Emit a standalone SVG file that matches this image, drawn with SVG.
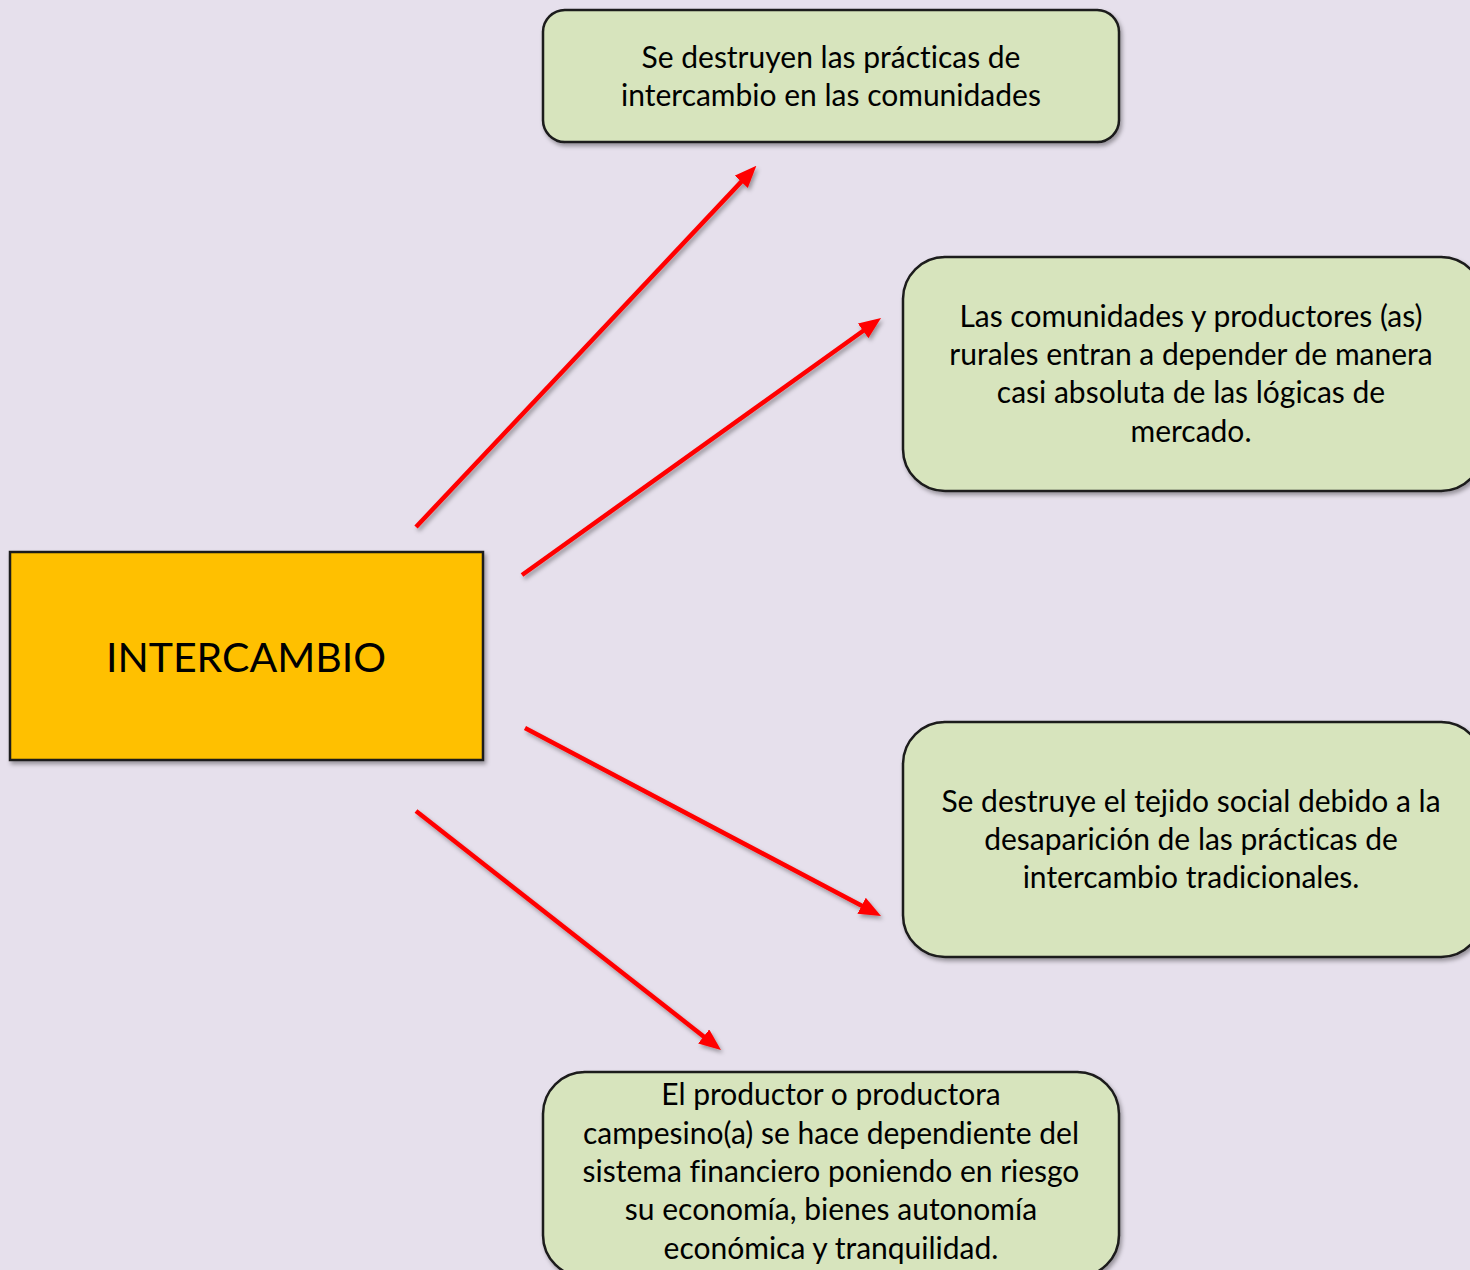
<svg xmlns="http://www.w3.org/2000/svg" width="1470" height="1270" viewBox="0 0 1470 1270">
  <defs>
    <filter id="shadow" x="-10%" y="-10%" width="130%" height="130%">
      <feDropShadow dx="2" dy="3" stdDeviation="2" flood-color="#000000" flood-opacity="0.35"/>
    </filter>
    <marker id="arrow" markerUnits="userSpaceOnUse" markerWidth="22" markerHeight="18" refX="4" refY="9" orient="auto">
      <path d="M0,0 L22,9 L0,18 Z" fill="#FF0000"/>
    </marker>
    <style>
      .box { fill: #D7E4BD; stroke: #1a1a1a; stroke-width: 2.5; filter: url(#shadow); }
      .main { fill: #FFC000; stroke: #1a1a1a; stroke-width: 2.5; filter: url(#shadow); }
      .txt { font-family: Lato, "Open Sans", "Liberation Sans", sans-serif; font-size: 30px; fill: #000000; text-anchor: middle; font-variant-ligatures: none; }
      .big { font-family: Lato, "Open Sans", "Liberation Sans", sans-serif; font-size: 41px; fill: #000000; text-anchor: middle; }
      .conn { stroke: #FF0000; stroke-width: 4.5; fill: none; marker-end: url(#arrow); filter: url(#shadow); }
    </style>
  </defs>
  <rect x="0" y="0" width="1470" height="1270" fill="#E6E0EC"/>

  <g id="connectors">
    <line class="conn" x1="416" y1="527" x2="744" y2="178.9"/>
    <line class="conn" x1="522" y1="575" x2="866.4" y2="328.5"/>
    <line class="conn" x1="525" y1="728" x2="865.1" y2="907.6"/>
    <line class="conn" x1="416" y1="811" x2="706.8" y2="1038.9"/>
  </g>

  <g id="intercambio">
    <rect class="main" x="10" y="552" width="473" height="208"/>
    <text class="big" x="246" y="672">INTERCAMBIO</text>
  </g>

  <g id="node-practicas">
    <rect class="box" x="543" y="10" width="576" height="132" rx="22" ry="22"/>
    <text class="txt" x="831" y="68">Se destruyen las prácticas de</text>
    <text class="txt" x="831" y="106">intercambio en las comunidades</text>
  </g>

  <g id="node-comunidades">
    <rect class="box" x="903" y="257" width="580" height="234" rx="42" ry="42"/>
    <text class="txt" x="1191" y="327">Las comunidades y productores (as)</text>
    <text class="txt" x="1191" y="365">rurales entran a depender de manera</text>
    <text class="txt" x="1191" y="403">casi absoluta de las lógicas de</text>
    <text class="txt" x="1191" y="442">mercado.</text>
  </g>

  <g id="node-tejido">
    <rect class="box" x="903" y="722" width="580" height="235" rx="42" ry="42"/>
    <text class="txt" x="1191" y="812">Se destruye el tejido social debido a la</text>
    <text class="txt" x="1191" y="850">desaparición de las prácticas de</text>
    <text class="txt" x="1191" y="888">intercambio tradicionales.</text>
  </g>

  <g id="node-productor">
    <rect class="box" x="543" y="1072" width="576" height="205" rx="42" ry="42"/>
    <text class="txt" x="831" y="1105">El productor o productora</text>
    <text class="txt" x="831" y="1144">campesino(a) se hace dependiente del</text>
    <text class="txt" x="831" y="1182">sistema financiero poniendo en riesgo</text>
    <text class="txt" x="831" y="1220">su economía, bienes autonomía</text>
    <text class="txt" x="831" y="1259">económica y tranquilidad.</text>
  </g>
</svg>
